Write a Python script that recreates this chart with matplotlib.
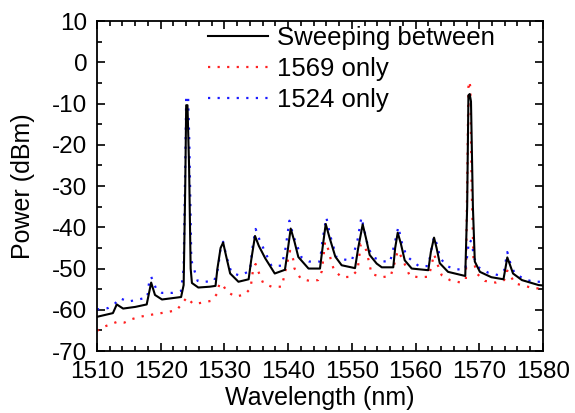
import numpy as np
import matplotlib
matplotlib.use("Agg")
import matplotlib.pyplot as plt
from matplotlib.ticker import MultipleLocator

# sweeping between both wavelengths (solid black)
sweep_wl = [1510.0, 1512.5, 1513.1, 1514.1, 1516.0, 1517.8, 1518.5, 1519.1, 1520.2, 1523.2,
            1523.6, 1523.85, 1524.0, 1524.2, 1524.45, 1524.7, 1524.9, 1525.9, 1527.7, 1528.6,
            1528.9, 1529.4, 1529.8, 1530.2, 1530.9, 1532.2, 1533.8, 1534.2, 1534.8, 1535.4,
            1536.4, 1537.9, 1539.5, 1539.9, 1540.4, 1541.0, 1541.6, 1543.2, 1545.0, 1545.4,
            1545.9, 1546.5, 1547.4, 1548.4, 1550.5, 1551.0, 1551.7, 1552.2, 1552.8, 1553.9,
            1554.7, 1556.5, 1556.8, 1557.2, 1557.7, 1558.3, 1559.4, 1562.0, 1562.4, 1562.9,
            1563.3, 1563.8, 1565.1, 1567.8, 1568.1, 1568.3, 1568.5, 1568.7, 1569.0, 1569.3,
            1570.1, 1571.9, 1573.8, 1574.1, 1574.4, 1574.8, 1575.3, 1576.7, 1579.3, 1580.0]
sweep_db = [-61.7, -60.8, -58.7, -59.7, -59.3, -58.7, -53.4, -56.4, -57.5, -56.9,
            -54.0, -30.0, -10.4, -10.4, -25.0, -50.0, -53.5, -54.6, -54.4, -54.2,
            -50.0, -45.0, -43.7, -46.5, -51.2, -53.2, -52.6, -48.0, -42.1, -44.5,
            -47.5, -51.2, -50.3, -46.0, -40.3, -43.5, -47.2, -50.0, -50.0, -45.0,
            -39.2, -42.5, -47.1, -49.2, -49.9, -45.0, -39.3, -42.5, -46.7, -48.8,
            -49.7, -49.7, -45.0, -41.3, -44.0, -48.0, -50.0, -50.4, -46.0, -42.5,
            -45.0, -48.7, -50.8, -51.8, -35.0, -8.0, -7.7, -9.5, -35.0, -48.3,
            -50.8, -52.1, -52.6, -50.0, -47.3, -49.0, -51.2, -52.8, -54.0, -54.1]

# 1569 only (red dotted)
red_wl = [1510.0, 1511.1, 1513.2, 1514.3, 1515.4, 1516.7, 1518.1, 1519.7, 1521.2, 1522.5,
          1523.6, 1524.1, 1525.1, 1526.4, 1528.0, 1528.8, 1529.2, 1529.6, 1530.4, 1531.7,
          1533.2, 1534.1, 1534.5, 1534.9, 1535.4, 1536.1, 1537.4, 1539.0, 1539.7, 1540.3,
          1540.8, 1541.0, 1542.0, 1543.4, 1544.7, 1545.3, 1545.8, 1546.4, 1546.7, 1547.2,
          1548.4, 1549.9, 1550.9, 1551.4, 1551.8, 1552.3, 1553.1, 1554.7, 1556.1, 1556.7,
          1557.2, 1557.9, 1559.1, 1560.5, 1562.0, 1562.4, 1562.9, 1563.5, 1564.1, 1565.4,
          1567.1, 1567.9, 1568.1, 1568.3, 1568.45, 1568.6, 1568.8, 1569.1, 1569.6, 1570.9,
          1572.6, 1573.9, 1574.4, 1574.8, 1575.6, 1577.1, 1578.6, 1580.0]
red_db = [-65.1, -64.1, -62.9, -63.1, -62.3, -61.7, -61.3, -60.9, -60.5, -60.1,
          -58.0, -57.0, -58.6, -58.3, -57.8, -56.2, -53.8, -53.6, -55.6, -56.8,
          -56.3, -54.8, -50.2, -48.9, -51.0, -53.6, -54.4, -54.4, -49.7, -45.7,
          -47.8, -50.0, -52.5, -53.0, -52.8, -50.6, -43.5, -45.7, -47.9, -50.4,
          -52.1, -52.0, -50.4, -44.1, -44.2, -45.7, -51.3, -52.1, -51.8, -48.7,
          -45.7, -47.5, -51.8, -52.1, -52.0, -50.0, -46.5, -49.2, -51.6, -52.8,
          -53.4, -52.6, -30.0, -6.0, -4.6, -6.0, -30.0, -48.0, -51.2, -53.0,
          -53.4, -52.8, -50.5, -51.5, -53.6, -54.2, -54.8, -54.8]

# 1524 only (blue dotted)
blue_wl = [1510.0, 1511.7, 1512.8, 1513.6, 1514.9, 1516.5, 1517.9, 1518.2, 1518.5, 1518.8,
           1519.3, 1520.2, 1521.8, 1523.2, 1523.6, 1523.9, 1524.0, 1524.3, 1524.5, 1524.8,
           1525.8, 1527.0, 1528.4, 1529.0, 1529.4, 1529.8, 1530.3, 1531.1, 1532.4, 1534.0,
           1534.4, 1534.9, 1535.5, 1536.3, 1537.4, 1539.0, 1539.6, 1540.2, 1540.8, 1542.1,
           1543.3, 1545.0, 1545.4, 1546.0, 1546.6, 1547.6, 1548.8, 1550.0, 1550.9, 1551.5,
           1552.0, 1552.6, 1553.4, 1554.7, 1556.0, 1556.7, 1557.3, 1557.9, 1558.6, 1560.5,
           1562.0, 1562.4, 1562.9, 1563.5, 1563.8, 1564.9, 1566.3, 1567.8, 1568.1, 1568.4,
           1568.8, 1569.2, 1569.9, 1571.4, 1573.0, 1573.9, 1574.4, 1575.0, 1575.6, 1577.1,
           1578.5, 1580.0]
blue_db = [-59.9, -59.6, -58.5, -57.2, -58.0, -57.5, -57.0, -53.0, -52.0, -53.0,
           -55.0, -55.9, -55.9, -55.4, -50.0, -20.0, -8.2, -8.2, -20.0, -48.0,
           -53.0, -53.2, -53.0, -50.0, -45.0, -43.5, -47.0, -51.0, -51.7, -50.6,
           -45.0, -40.4, -43.0, -45.7, -49.4, -49.3, -45.0, -38.4, -42.0, -47.3,
           -48.3, -48.3, -43.0, -37.6, -42.0, -47.3, -47.8, -48.1, -43.0, -37.6,
           -41.0, -45.1, -47.3, -48.2, -48.4, -44.0, -39.9, -44.1, -47.0, -49.4,
           -49.4, -46.0, -42.3, -44.7, -47.3, -49.4, -50.2, -50.2, -47.0, -43.1,
           -43.5, -47.5, -49.7, -51.0, -51.6, -50.5, -46.0, -49.4, -51.2, -52.6,
           -53.2, -53.2]

plt.rcParams['font.family'] = ['Liberation Sans', 'DejaVu Sans']
plt.rcParams['axes.unicode_minus'] = False

fig = plt.figure(figsize=(5.75, 4.13), dpi=100)
ax = fig.add_axes([0.1687, 0.150, 0.7756, 0.799])

ax.plot(sweep_wl, sweep_db, color='black', lw=1.5, label='Sweeping between', zorder=3,
        solid_joinstyle='round')
ax.plot(red_wl, red_db, color='#ff2020', lw=1.6, linestyle=(0, (1, 3.3)), label='1569 only')
ax.plot(blue_wl, blue_db, color='#1a1aff', lw=1.6, linestyle=(0, (1, 3.3)), label='1524 only')

ax.set_xlim(1510, 1580)
ax.set_ylim(-70, 10)
ax.xaxis.set_major_locator(MultipleLocator(10))
ax.xaxis.set_minor_locator(MultipleLocator(2))
ax.yaxis.set_major_locator(MultipleLocator(10))
ax.yaxis.set_minor_locator(MultipleLocator(5))
ax.tick_params(which='both', direction='in', top=True, right=True, width=1.2)
ax.tick_params(which='major', length=6, labelsize=17.5)
ax.tick_params(which='minor', length=3.5)
ax.tick_params(axis='x', which='major', pad=7)
ax.tick_params(axis='y', which='major', pad=7)
for s in ax.spines.values():
    s.set_linewidth(1.3)

ax.set_xlabel('Wavelength (nm)', fontsize=18, labelpad=2)
ax.set_ylabel('Power (dBm)', fontsize=18, labelpad=12)

ax.legend(loc='upper left', bbox_to_anchor=(0.249, 0.985), frameon=False, fontsize=18.5,
          handlelength=2.35, handletextpad=0.35, labelspacing=0.27, borderpad=0, borderaxespad=0)

fig.savefig('out.png', dpi=100)
